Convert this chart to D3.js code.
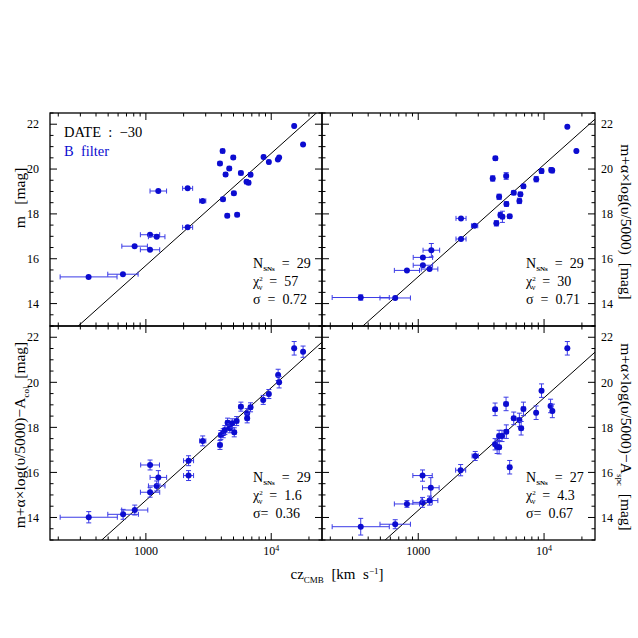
<!DOCTYPE html>
<html>
<head>
<meta charset="utf-8">
<script src="https://cdn.jsdelivr.net/npm/d3@7"></script>
<style>
  html, body { margin: 0; padding: 0; background: #fff; }
  svg text { font-family: "Liberation Serif", "DejaVu Serif", serif; white-space: pre; }
</style>
</head>
<body>
<div id="chart"></div>
<script>
// ---------------- data ----------------
// cz_CMB [km/s], magnitude [mag], cz error [dex], mag error [mag]

// top left : m, DATE -30, B filter
const czTL  = [349, 656, 813, 1079, 1079, 1219, 1256, 2153, 2153, 2838, 3899, 4093, 4121, 4325, 4457,
               4624, 4977, 5035, 5346, 5728, 6353, 6592, 6839, 8690, 9572, 11298, 11561, 15241, 17947];
const magTL = [15.19, 15.31, 16.56, 17.07, 16.40, 16.98, 19.02, 17.40, 19.14, 18.58, 20.25, 20.80, 18.65, 19.76, 17.92,
               20.03, 20.52, 18.92, 17.96, 19.82, 19.43, 19.39, 19.75, 20.54, 20.31, 20.43, 20.52, 21.92, 21.10];
const dczTL = [0.227, 0.121, 0.102, 0.077, 0.077, 0.066, 0.066, 0.04, 0.04, 0.025, 0.015, 0.015, 0.015, 0.015, 0.015,
               0.015, 0.015, 0.015, 0.015, 0.015, 0.015, 0.015, 0.015, 0.01, 0.01, 0.01, 0.01, 0.008, 0.008];
const dmTL  = [0.05, 0.05, 0.05, 0.05, 0.05, 0.05, 0.05, 0.05, 0.05, 0.05, 0.05, 0.05, 0.05, 0.05, 0.05,
               0.05, 0.05, 0.05, 0.05, 0.05, 0.05, 0.05, 0.05, 0.05, 0.05, 0.05, 0.05, 0.05, 0.05];

// top right : m + a log(v/5000)
const czTR  = [349, 656, 813, 1089, 1089, 1230, 1271, 2188, 2188, 2805, 3908, 4102, 4178, 4395, 4498,
               4667, 5000, 5023, 5333, 5741, 6368, 6486, 6855, 8670, 9550, 11402, 11614, 15311, 18072];
const magTR = [14.27, 14.25, 15.48, 16.06, 15.71, 15.54, 16.38, 17.80, 16.88, 17.47, 19.58, 20.48, 17.58, 18.76, 17.95,
               17.87, 19.69, 18.44, 17.89, 18.94, 18.58, 18.88, 19.23, 19.55, 19.91, 19.96, 19.93, 21.89, 20.80];
const dczTR = [0.227, 0.121, 0.10, 0.077, 0.077, 0.066, 0.066, 0.04, 0.04, 0.025, 0.015, 0.015, 0.015, 0.015, 0.015,
               0.015, 0.015, 0.015, 0.015, 0.015, 0.015, 0.015, 0.015, 0.01, 0.01, 0.01, 0.01, 0.008, 0.008];
const dmTR  = [0.12, 0.05, 0.05, 0.06, 0.06, 0.05, 0.30, 0.06, 0.05, 0.05, 0.12, 0.08, 0.12, 0.12, 0.12,
               0.25, 0.15, 0.10, 0.08, 0.08, 0.12, 0.08, 0.08, 0.12, 0.10, 0.10, 0.10, 0.05, 0.05];

// bottom left : m + a log(v/5000) - A_col
const czBL  = [350, 658, 815, 1080, 1080, 1220, 1257, 2190, 2190, 2840, 3900, 3963, 4140, 4266, 4487,
               4677, 4887, 5070, 5297, 5728, 6427, 6427, 6839, 8630, 9572, 11350, 11561, 15241, 17947];
const magBL = [14.01, 14.14, 14.33, 15.12, 16.33, 15.40, 15.78, 16.52, 15.86, 17.40, 17.22, 17.66, 17.74, 17.88, 18.21,
               17.96, 18.18, 17.78, 18.28, 18.92, 18.63, 18.40, 18.89, 19.22, 19.48, 20.33, 20.00, 21.51, 21.36];
const dczBL = [0.228, 0.122, 0.104, 0.077, 0.075, 0.066, 0.066, 0.04, 0.04, 0.025, 0.015, 0.015, 0.015, 0.015, 0.015,
               0.015, 0.015, 0.015, 0.015, 0.015, 0.015, 0.015, 0.015, 0.01, 0.01, 0.01, 0.01, 0.008, 0.008];
const dmBL  = [0.25, 0.22, 0.22, 0.22, 0.22, 0.22, 0.30, 0.22, 0.22, 0.22, 0.20, 0.20, 0.20, 0.20, 0.20,
               0.20, 0.20, 0.20, 0.20, 0.20, 0.20, 0.20, 0.20, 0.20, 0.20, 0.25, 0.25, 0.30, 0.25];

// bottom right : m + a log(v/5000) - A_spc
const czBR  = [349, 656, 813, 1082, 1082, 1230, 1259, 2173, 2838, 4083, 4083, 4236, 4395, 4395,
               4634, 4989, 5012, 5333, 5741, 6368, 6577, 6855, 8650, 9550, 11272, 11641, 15311];
const magBR = [13.59, 13.70, 14.60, 15.86, 14.67, 14.75, 15.32, 16.10, 16.73, 18.80, 17.25, 17.14, 17.12, 17.62,
               17.62, 19.04, 17.81, 16.23, 18.40, 18.33, 17.96, 18.82, 18.65, 19.63, 18.95, 18.73, 21.51];
const dczBR = [0.227, 0.121, 0.10, 0.077, 0.077, 0.066, 0.066, 0.04, 0.025, 0.015, 0.015, 0.015, 0.015, 0.015,
               0.015, 0.015, 0.015, 0.015, 0.015, 0.015, 0.015, 0.015, 0.01, 0.01, 0.01, 0.01, 0.008];
const dmBR  = [0.37, 0.20, 0.15, 0.25, 0.22, 0.20, 0.45, 0.25, 0.20, 0.28, 0.25, 0.30, 0.30, 0.25,
               0.25, 0.30, 0.30, 0.30, 0.28, 0.30, 0.30, 0.30, 0.30, 0.30, 0.30, 0.30, 0.30];

// fit: m = 5 log(cz) + zp
const fitSlope = 5;
const fitZero  = [0.70, 0.20, -0.24, -0.685];

// statistics boxes
const nSNs   = [29, 29, 29, 27];
const chi2   = ['57', '30', '1.6', '4.3'];
const sigmas = ['0.72', '0.71', '0.36', '0.67'];

// axes
const czDomain  = [171.8, 25410];
const magDomain = [13, 22.5];
const xMajor = [1000, 10000];
const xMinor = [200, 300, 400, 500, 600, 700, 800, 900, 2000, 3000, 4000, 5000, 6000, 7000, 8000, 9000, 20000];
const yMajor = [14, 16, 18, 20, 22];
const yMinor = [13, 13.5, 14.5, 15, 15.5, 16.5, 17, 17.5, 18.5, 19, 19.5, 20.5, 21, 21.5, 22.5];

// ---------------- layout ----------------
const W = 638, H = 638;
const colX = [[50, 322], [322, 595]];
const rowY = [[113, 326], [326, 540]];
const BLUE = '#0c0cd0';
const ERR = '#3a3ae6';

const svg = d3.select('#chart').append('svg')
  .attr('width', W).attr('height', H)
  .style('display', 'block');

const panels = [
  { cz: czTL, m: magTL, dcz: dczTL, dm: dmTL, col: 0, row: 0 },
  { cz: czTR, m: magTR, dcz: dczTR, dm: dmTR, col: 1, row: 0 },
  { cz: czBL, m: magBL, dcz: dczBL, dm: dmBL, col: 0, row: 1 },
  { cz: czBR, m: magBR, dcz: dczBR, dm: dmBR, col: 1, row: 1 }
];

panels.forEach((p, i) => {
  const [x0, x1] = colX[p.col];
  const [y0, y1] = rowY[p.row];
  const x = d3.scaleLog().domain(czDomain).range([x0, x1]);
  const y = d3.scaleLinear().domain(magDomain).range([y1, y0]);

  const g = svg.append('g');
  const clipId = 'clip' + i;
  svg.append('clipPath').attr('id', clipId)
    .append('rect').attr('x', x0).attr('y', y0).attr('width', x1 - x0).attr('height', y1 - y0);

  const plot = g.append('g').attr('clip-path', `url(#${clipId})`);

  // fit line
  plot.append('line')
    .attr('x1', x(czDomain[0])).attr('y1', y(fitSlope * Math.log10(czDomain[0]) + fitZero[i]))
    .attr('x2', x(czDomain[1])).attr('y2', y(fitSlope * Math.log10(czDomain[1]) + fitZero[i]))
    .attr('stroke', '#000').attr('stroke-width', 1);

  // points with error bars
  const pts = p.cz.map((c, k) => ({ cz: c, m: p.m[k], dcz: p.dcz[k], dm: p.dm[k] }));
  const pg = plot.selectAll('g.pt').data(pts).enter().append('g').attr('class', 'pt');
  const lo = d => x(d.cz / Math.pow(10, d.dcz));
  const hi = d => x(d.cz * Math.pow(10, d.dcz));
  pg.append('line').attr('x1', lo).attr('x2', hi)
    .attr('y1', d => y(d.m)).attr('y2', d => y(d.m))
    .attr('stroke', ERR).attr('stroke-width', 1);
  pg.append('line').attr('x1', lo).attr('x2', lo)
    .attr('y1', d => y(d.m) - 2.5).attr('y2', d => y(d.m) + 2.5)
    .attr('stroke', ERR).attr('stroke-width', 1);
  pg.append('line').attr('x1', hi).attr('x2', hi)
    .attr('y1', d => y(d.m) - 2.5).attr('y2', d => y(d.m) + 2.5)
    .attr('stroke', ERR).attr('stroke-width', 1);
  pg.append('line').attr('x1', d => x(d.cz)).attr('x2', d => x(d.cz))
    .attr('y1', d => y(d.m - d.dm)).attr('y2', d => y(d.m + d.dm))
    .attr('stroke', ERR).attr('stroke-width', 1);
  pg.filter(d => d.dm > 0.07).append('line')
    .attr('x1', d => x(d.cz) - 2.5).attr('x2', d => x(d.cz) + 2.5)
    .attr('y1', d => y(d.m - d.dm)).attr('y2', d => y(d.m - d.dm))
    .attr('stroke', ERR).attr('stroke-width', 1);
  pg.filter(d => d.dm > 0.07).append('line')
    .attr('x1', d => x(d.cz) - 2.5).attr('x2', d => x(d.cz) + 2.5)
    .attr('y1', d => y(d.m + d.dm)).attr('y2', d => y(d.m + d.dm))
    .attr('stroke', ERR).attr('stroke-width', 1);
  pg.append('circle')
    .attr('cx', d => x(d.cz)).attr('cy', d => y(d.m))
    .attr('r', 3).attr('fill', BLUE);

  // ticks (inward, all sides)
  const tk = g.append('g').attr('stroke', '#000').attr('stroke-width', 1);
  const xt = (vals, len) => vals.forEach(v => {
    tk.append('line').attr('x1', x(v)).attr('x2', x(v)).attr('y1', y1).attr('y2', y1 - len);
    tk.append('line').attr('x1', x(v)).attr('x2', x(v)).attr('y1', y0).attr('y2', y0 + len);
  });
  const yt = (vals, len) => vals.forEach(v => {
    tk.append('line').attr('y1', y(v)).attr('y2', y(v)).attr('x1', x0).attr('x2', x0 + len);
    tk.append('line').attr('y1', y(v)).attr('y2', y(v)).attr('x1', x1).attr('x2', x1 - len);
  });
  xt(xMajor, 7); xt(xMinor, 3.5);
  yt(yMajor, 7); yt(yMinor, 3.5);

  g.append('rect')
    .attr('x', x0).attr('y', y0).attr('width', x1 - x0).attr('height', y1 - y0)
    .attr('fill', 'none').attr('stroke', '#000').attr('stroke-width', 1.3);

  // tick labels
  yMajor.forEach(v => {
    g.append('text')
      .attr('x', p.col === 0 ? x0 - 11 : x1 + 6)
      .attr('y', y(v)).attr('dy', '0.35em')
      .attr('text-anchor', p.col === 0 ? 'end' : 'start')
      .style('font-size', '12px')
      .text(v);
  });
  if (p.row === 1) {
    g.append('text').attr('x', x(1000)).attr('y', y1 + 15)
      .attr('text-anchor', 'middle').style('font-size', '12px').text('1000');
    const t4 = g.append('text').attr('x', x(10000)).attr('y', y1 + 15)
      .attr('text-anchor', 'middle').style('font-size', '12px');
    t4.append('tspan').text('10');
    t4.append('tspan').attr('dy', -4).style('font-size', '8px').text('4');
  }

  // statistics
  const sx = x1 - 69;
  const n = g.append('text').attr('x', sx).attr('y', y1 - 58).style('font-size', '14px');
  n.append('tspan').text('N');
  n.append('tspan').attr('dy', 3).style('font-size', '7px').style('font-weight', 'bold').text('SNs');
  n.append('tspan').attr('dy', -3).text('  =  ' + nSNs[i]);

  const c = g.append('text').attr('x', sx).attr('y', y1 - 40).style('font-size', '14px');
  c.append('tspan').text('χ');
  c.append('tspan').attr('dy', -5).style('font-size', '7px').text('2');
  c.append('tspan').attr('dx', -4).attr('dy', 9).style('font-size', '8px').text('ν');
  c.append('tspan').attr('dy', -4).text('  =  ' + chi2[i]);

  g.append('text').attr('x', sx).attr('y', y1 - 22).style('font-size', '14px')
    .text(p.row === 0 ? 'σ  =  ' + sigmas[i] : 'σ=  ' + sigmas[i]);
});

// ---------------- panel text & axis titles ----------------
svg.append('text').attr('x', 64).attr('y', 137).style('font-size', '14.5px').text('DATE  :  −30');
svg.append('text').attr('x', 64).attr('y', 156).style('font-size', '14.5px').attr('fill', BLUE).text('B  filter');

const xl = svg.append('text').attr('x', 337).attr('y', 579)
  .attr('text-anchor', 'middle').style('font-size', '15px');
xl.append('tspan').text('cz');
xl.append('tspan').attr('dy', 4).style('font-size', '9px').text('CMB');
xl.append('tspan').attr('dy', -4).text('  [km  s');
xl.append('tspan').attr('dy', -5).style('font-size', '9px').text('−1');
xl.append('tspan').attr('dy', 5).text(']');

function sideLabel(cx, cy, rot, sub) {
  const t = svg.append('text')
    .attr('transform', `translate(${cx},${cy}) rotate(${rot})`)
    .attr('text-anchor', 'middle').attr('dy', '0.35em')
    .style('font-size', '15.5px');
  t.append('tspan').text(sub === null ? 'm+α×log(υ/5000)' : 'm+α×log(υ/5000)−A');
  if (sub) t.append('tspan').attr('dy', 4).style('font-size', '9px').text(sub);
  t.append('tspan').attr('dy', sub ? -4 : 0).text('  [mag]');
  return t;
}

svg.append('text')
  .attr('transform', 'translate(20,198) rotate(-90)')
  .attr('text-anchor', 'middle').attr('dy', '0.35em')
  .style('font-size', '15.5px').text('m   [mag]');
sideLabel(20, 435, -90, 'col');
sideLabel(626, 222, 90, null);
sideLabel(626, 437, 90, 'spc');
</script>
</body>
</html>
